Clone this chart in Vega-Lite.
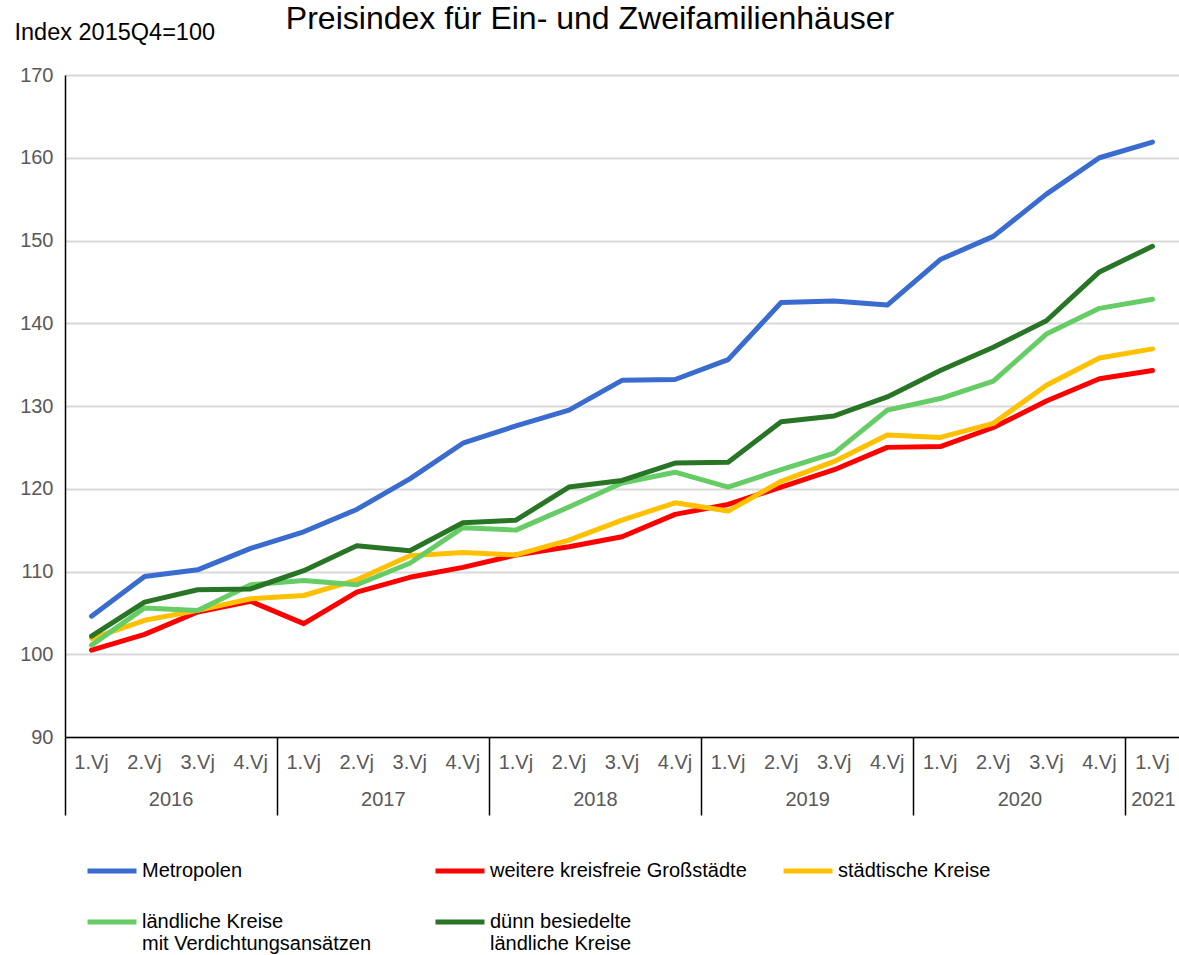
{
  "$schema": "https://vega.github.io/schema/vega-lite/v6.json",
  "width": 1114,
  "height": 662,
  "autosize": "none",
  "padding": {"left": 65, "top": 75, "right": 0, "bottom": 218},
  "background": "white",
  "title": {
    "text": "Preisindex für Ein- und Zweifamilienhäuser",
    "font": "Liberation Sans",
    "fontSize": 32,
    "fontWeight": "normal",
    "color": "#000000",
    "anchor": "middle",
    "dx": -32,
    "offset": -16
  },
  "config": {
    "view": {"stroke": null},
    "font": "Liberation Sans"
  },
  "data": {
    "values": [
      {"q": "2016 1.Vj", "Metropolen": 104.6, "weitere kreisfreie Großstädte": 100.5, "städtische Kreise": 101.9, "ländliche Kreise mit Verdichtungsansätzen": 101.1, "dünn besiedelte ländliche Kreise": 102.2},
      {"q": "2016 2.Vj", "Metropolen": 109.4, "weitere kreisfreie Großstädte": 102.4, "städtische Kreise": 104.1, "ländliche Kreise mit Verdichtungsansätzen": 105.6, "dünn besiedelte ländliche Kreise": 106.3},
      {"q": "2016 3.Vj", "Metropolen": 110.2, "weitere kreisfreie Großstädte": 105.1, "städtische Kreise": 105.3, "ländliche Kreise mit Verdichtungsansätzen": 105.3, "dünn besiedelte ländliche Kreise": 107.8},
      {"q": "2016 4.Vj", "Metropolen": 112.8, "weitere kreisfreie Großstädte": 106.4, "städtische Kreise": 106.7, "ländliche Kreise mit Verdichtungsansätzen": 108.4, "dünn besiedelte ländliche Kreise": 107.9},
      {"q": "2017 1.Vj", "Metropolen": 114.8, "weitere kreisfreie Großstädte": 103.7, "städtische Kreise": 107.1, "ländliche Kreise mit Verdichtungsansätzen": 108.9, "dünn besiedelte ländliche Kreise": 110.1},
      {"q": "2017 2.Vj", "Metropolen": 117.5, "weitere kreisfreie Großstädte": 107.5, "städtische Kreise": 109.0, "ländliche Kreise mit Verdichtungsansätzen": 108.4, "dünn besiedelte ländliche Kreise": 113.1},
      {"q": "2017 3.Vj", "Metropolen": 121.2, "weitere kreisfreie Großstädte": 109.3, "städtische Kreise": 111.9, "ländliche Kreise mit Verdichtungsansätzen": 111.0, "dünn besiedelte ländliche Kreise": 112.5},
      {"q": "2017 4.Vj", "Metropolen": 125.5, "weitere kreisfreie Großstädte": 110.5, "städtische Kreise": 112.3, "ländliche Kreise mit Verdichtungsansätzen": 115.3, "dünn besiedelte ländliche Kreise": 115.9},
      {"q": "2018 1.Vj", "Metropolen": 127.6, "weitere kreisfreie Großstädte": 112.0, "städtische Kreise": 112.0, "ländliche Kreise mit Verdichtungsansätzen": 115.0, "dünn besiedelte ländliche Kreise": 116.2},
      {"q": "2018 2.Vj", "Metropolen": 129.5, "weitere kreisfreie Großstädte": 113.0, "städtische Kreise": 113.8, "ländliche Kreise mit Verdichtungsansätzen": 117.8, "dünn besiedelte ländliche Kreise": 120.2},
      {"q": "2018 3.Vj", "Metropolen": 133.1, "weitere kreisfreie Großstädte": 114.2, "städtische Kreise": 116.2, "ländliche Kreise mit Verdichtungsansätzen": 120.7, "dünn besiedelte ländliche Kreise": 121.0},
      {"q": "2018 4.Vj", "Metropolen": 133.2, "weitere kreisfreie Großstädte": 116.9, "städtische Kreise": 118.3, "ländliche Kreise mit Verdichtungsansätzen": 122.0, "dünn besiedelte ländliche Kreise": 123.1},
      {"q": "2019 1.Vj", "Metropolen": 135.6, "weitere kreisfreie Großstädte": 118.1, "städtische Kreise": 117.3, "ländliche Kreise mit Verdichtungsansätzen": 120.2, "dünn besiedelte ländliche Kreise": 123.2},
      {"q": "2019 2.Vj", "Metropolen": 142.5, "weitere kreisfreie Großstädte": 120.2, "städtische Kreise": 120.9, "ländliche Kreise mit Verdichtungsansätzen": 122.3, "dünn besiedelte ländliche Kreise": 128.1},
      {"q": "2019 3.Vj", "Metropolen": 142.7, "weitere kreisfreie Großstädte": 122.3, "städtische Kreise": 123.3, "ländliche Kreise mit Verdichtungsansätzen": 124.3, "dünn besiedelte ländliche Kreise": 128.8},
      {"q": "2019 4.Vj", "Metropolen": 142.2, "weitere kreisfreie Großstädte": 125.0, "städtische Kreise": 126.5, "ländliche Kreise mit Verdichtungsansätzen": 129.5, "dünn besiedelte ländliche Kreise": 131.1},
      {"q": "2020 1.Vj", "Metropolen": 147.7, "weitere kreisfreie Großstädte": 125.1, "städtische Kreise": 126.2, "ländliche Kreise mit Verdichtungsansätzen": 130.9, "dünn besiedelte ländliche Kreise": 134.3},
      {"q": "2020 2.Vj", "Metropolen": 150.5, "weitere kreisfreie Großstädte": 127.4, "städtische Kreise": 127.9, "ländliche Kreise mit Verdichtungsansätzen": 133.0, "dünn besiedelte ländliche Kreise": 137.1},
      {"q": "2020 3.Vj", "Metropolen": 155.6, "weitere kreisfreie Großstädte": 130.6, "städtische Kreise": 132.5, "ländliche Kreise mit Verdichtungsansätzen": 138.7, "dünn besiedelte ländliche Kreise": 140.3},
      {"q": "2020 4.Vj", "Metropolen": 160.0, "weitere kreisfreie Großstädte": 133.3, "städtische Kreise": 135.8, "ländliche Kreise mit Verdichtungsansätzen": 141.8, "dünn besiedelte ländliche Kreise": 146.2},
      {"q": "2021 1.Vj", "Metropolen": 161.9, "weitere kreisfreie Großstädte": 134.3, "städtische Kreise": 136.9, "ländliche Kreise mit Verdichtungsansätzen": 142.9, "dünn besiedelte ländliche Kreise": 149.3}
    ]
  },
  "transform": [
    {"fold": ["Metropolen", "weitere kreisfreie Großstädte", "städtische Kreise", "ländliche Kreise mit Verdichtungsansätzen", "dünn besiedelte ländliche Kreise"], "as": ["Region", "Index"]}
  ],
  "layer": [
    {
      "mark": {"type": "line", "strokeWidth": 5, "strokeCap": "round", "strokeJoin": "round"},
      "encoding": {
        "x": {
          "field": "q", "type": "ordinal",
          "scale": {"type": "band", "paddingInner": 0, "paddingOuter": 0},
          "axis": {
            "orient": "bottom", "title": null, "ticks": false, "grid": false,
            "domain": true, "domainColor": "#000000", "domainWidth": 1.5,
            "labelExpr": "split(datum.label, ' ')[1]",
            "labelFont": "Liberation Sans", "labelFontSize": 20, "labelColor": "#595959",
            "labelPadding": 15, "labelAngle": 0
          }
        },
        "y": {
          "field": "Index", "type": "quantitative",
          "scale": {"domain": [90, 170], "nice": false, "zero": false},
          "axis": {
            "title": "Index 2015Q4=100", "titleAngle": 0, "titleAlign": "left", "titleBaseline": "middle",
            "titleX": -51, "titleY": -43, "titleFont": "Liberation Sans", "titleFontSize": 23.5,
            "titleFontWeight": "normal", "titleColor": "#000000",
            "values": [90, 100, 110, 120, 130, 140, 150, 160, 170],
            "labelFont": "Liberation Sans", "labelFontSize": 20, "labelColor": "#595959", "labelPadding": 12,
            "ticks": false, "domain": true, "domainColor": "#000000", "domainWidth": 1.5,
            "grid": true, "gridColor": "#D9D9D9", "gridWidth": 2
          }
        },
        "color": {
          "field": "Region", "type": "nominal",
          "scale": {
            "domain": ["Metropolen", "weitere kreisfreie Großstädte", "städtische Kreise", "ländliche Kreise mit Verdichtungsansätzen", "dünn besiedelte ländliche Kreise"],
            "range": ["#3A6BCF", "#FF0000", "#FFC000", "#66CC66", "#287526"]
          },
          "legend": {
            "title": null, "orient": "none", "legendX": 20, "legendY": 758,
            "direction": "horizontal",
            "columns": 3, "gridAlign": "all", "columnPadding": 26, "rowPadding": 3,
            "symbolType": "stroke", "symbolSize": 2401, "symbolStrokeWidth": 5,
            "labelFont": "Liberation Sans", "labelFontSize": 20, "labelColor": "#000000",
            "labelOffset": 3, "labelLimit": 500,
            "labelExpr": "datum.label == 'ländliche Kreise mit Verdichtungsansätzen' ? ['ländliche Kreise', ' mit Verdichtungsansätzen'] : (datum.label == 'dünn besiedelte ländliche Kreise' ? ['dünn besiedelte', 'ländliche Kreise'] : datum.label)"
          }
        }
      }
    },
    {
      "mark": {"type": "line", "opacity": 0},
      "encoding": {
        "x": {
          "field": "q", "type": "ordinal",
          "axis": {
            "orient": "bottom", "title": null, "grid": false, "domain": false,
            "bandPosition": 0,
            "ticks": true, "tickSize": 78, "tickColor": "#000000", "tickWidth": 1.5,
            "tickOpacity": {"condition": {"test": "indexof(datum.value, '1.Vj') > 0", "value": 1}, "value": 0},
            "labelExpr": "indexof(datum.value, '3.Vj') > 0 ? slice(datum.value, 0, 4) : (datum.value == '2021 1.Vj' ? '2021' : '')",
            "labelOffset": {"condition": {"test": "datum.value == '2021 1.Vj'", "value": 1}, "value": -26.5},
            "labelAlign": "center",
            "labelFont": "Liberation Sans", "labelFontSize": 20, "labelColor": "#595959",
            "labelPadding": -26, "labelAngle": 0
          }
        },
        "y": {"field": "Index", "type": "quantitative"},
        "detail": {"field": "Region"}
      }
    }
  ],
  "resolve": {"axis": {"x": "independent"}}
}
